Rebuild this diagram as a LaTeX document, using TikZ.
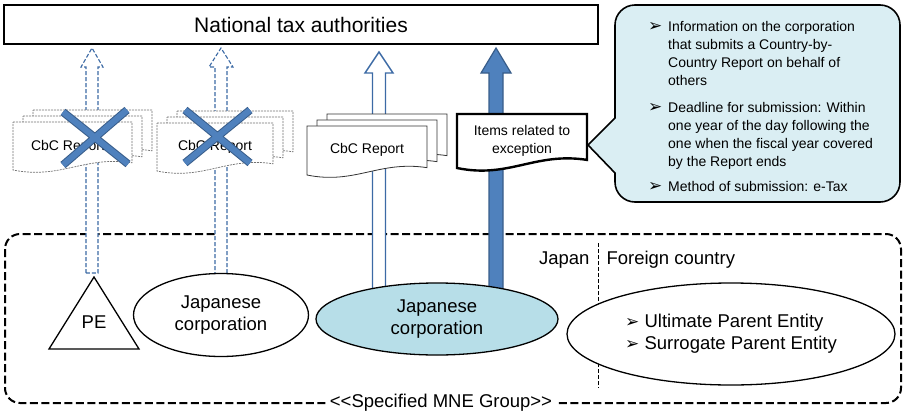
\documentclass[tikz,border=0pt]{standalone}
\usepackage{fontspec}
\setmainfont{Liberation Sans}
\newfontfamily\dejavu{DejaVu Sans}
\usetikzlibrary{shapes.geometric,calc}

\definecolor{arrowline}{HTML}{3C6AA5}
\definecolor{solidfill}{HTML}{4F81BD}
\definecolor{solidline}{HTML}{385D8A}
\definecolor{calloutblue}{HTML}{DAEEF3}
\definecolor{entityblue}{HTML}{B7DEE8}

% bullet mark
\newcommand\tick{{\dejavu\fontsize{17}{17}\selectfont ➢}}
\newcommand\itemmark{\makebox[20pt][l]{\tick}}
\newcommand\itemgap{\hspace*{20pt}}

% one page of a report, y grows downwards
\newcommand\docpage[5]{%
  \draw[#1] (#2,#3) -- ({#2+#4},#3) -- ({#2+#4},{#3+0.85*#5})
    .. controls ({#2+0.6*#4},{#3+0.7*#5}) and ({#2+0.4*#4},{#3+1.2*#5}) .. (#2,{#3+#5}) -- cycle;}
\newcommand\docstack[5]{%
  \docpage{#1}{#2+20}{#3-12}{#4}{#5}
  \docpage{#1}{#2+10}{#3-6}{#4}{#5}
  \docpage{#1}{#2}{#3}{#4}{#5}}

% block arrow from foot to tip
\newcommand\blockarrow[6]{%
  \path[#1] let \p1=(#2), \p2=(#3) in
    (\x1-#4,\y1) -- (\x1-#4,\y2-#6) -- (\x1-#5,\y2-#6) -- (\x1,\y2)
    -- (\x1+#5,\y2-#6) -- (\x1+#4,\y2-#6) -- (\x1+#4,\y1) -- cycle;}

\tikzset{
  every node/.style={font=\fontsize{18.5}{22}\selectfont},
  smalltext/.style={font=\fontsize{14}{18}\selectfont, align=center},
  entity/.style={ellipse, draw, fill=white, line width=1.3pt, align=center, inner sep=0pt},
  hollowdash/.style={draw=arrowline, fill=white, line width=1.1pt, dash pattern=on 4pt off 2pt},
  hollow/.style={draw=arrowline, fill=white, line width=1.4pt},
  filled/.style={draw=solidline, fill=solidfill, line width=1.2pt},
  ghostpage/.style={draw=black!55, fill=white, line width=0.7pt, dash pattern=on 2pt off 1pt},
  page/.style={draw=black!80, fill=white, line width=0.8pt},
  itempage/.style={draw=black, fill=white, line width=2.4pt},
  crossmark/.style={draw=solidline, double=solidfill, double distance=6pt, line width=1pt},
}

\begin{document}
\begin{tikzpicture}[x=1pt,y=-1pt]
\useasboundingbox (0,0) rectangle (903,410);

% MNE group frame
\draw[line width=2pt, dash pattern=on 8pt off 3.5pt, rounded corners=15pt] (5,234) rectangle (901,403);
\draw[line width=0.8pt, dash pattern=on 4pt off 2pt] (598,243) -- (598,388);
\node[anchor=east] (japan) at (593,260) {Japan};
\node[anchor=west] (foreign) at (603,260) {Foreign country};
\node[fill=white, inner xsep=4pt, inner ysep=1pt] (mne) at (441,403) {<{}<Specified MNE Group>{}>};

\node[draw, line width=2.2pt, minimum width=594, minimum height=39, inner sep=0,
  font=\fontsize{21}{24}\selectfont] (nta) at (301,24.5) {National tax authorities};

% arrows
\coordinate (a1foot) at (92,273);  \coordinate (a1tip) at (92,48);
\coordinate (a2foot) at (221,276); \coordinate (a2tip) at (221,48);
\coordinate (a3foot) at (379,290); \coordinate (a3tip) at (379,52);
\coordinate (a4foot) at (496,290); \coordinate (a4tip) at (496,48);
\blockarrow{hollowdash}{a1foot}{a1tip}{6pt}{11pt}{19pt}
\blockarrow{hollowdash}{a2foot}{a2tip}{6pt}{12pt}{19pt}
\blockarrow{hollow}{a3foot}{a3tip}{6.5pt}{14pt}{21pt}
\blockarrow{filled}{a4foot}{a4tip}{7pt}{15pt}{25pt}

% entities
\draw[line width=1.3pt] (94,277) -- (139,349) -- (49,349) -- cycle;
\node (pe) at (94,322) {PE};
\node[entity, minimum width=175, minimum height=83] (jpa) at (221,315) {Japanese\\corporation};
\node[entity, fill=entityblue, minimum width=242, minimum height=72] (jpb) at (437,319) {Japanese\\corporation};
\node[entity, minimum width=328, minimum height=102, align=left] (upe) at (731,334)
  {\tick\ Ultimate Parent Entity\\\tick\ Surrogate Parent Entity};

% reports
\docstack{ghostpage}{13}{122}{119}{48}
\node[smalltext] (cbc1) at (68,147) {CbC Report};
\docstack{ghostpage}{157}{123}{116}{48}
\node[smalltext] (cbc2) at (215,147) {CbC Report};
\docstack{page}{307}{126}{120}{49}
\node[smalltext] (cbc3) at (367,150) {CbC Report};
\docpage{itempage}{457}{114}{130}{54}
\node[smalltext] (items) at (522,141) {Items related to\\exception};

\draw[crossmark] (63,112) -- (128,164) (127,110) -- (63,165);
\draw[crossmark] (185,110) -- (250,163) (250,110) -- (185,163);

% callout
\coordinate (calltip) at (588,145);
\draw[line width=1.6pt, fill=calloutblue] (calltip) -- (615,118) -- (615,25)
  arc[start angle=180, end angle=270, radius=20] -- (880,5)
  arc[start angle=270, end angle=360, radius=20] -- (900,182)
  arc[start angle=0, end angle=90, radius=20] -- (635,202)
  arc[start angle=90, end angle=180, radius=20] -- (615,173) -- cycle;
\node[anchor=north west, align=left, inner sep=0, font=\fontsize{14}{18}\selectfont] (notes) at (648,21)
  {\itemmark Information on the corporation\\
   \itemgap that submits a Country-by-\\
   \itemgap Country Report on behalf of\\
   \itemgap others\\[9pt]
   \itemmark Deadline for submission: Within\\
   \itemgap one year of the day following the\\
   \itemgap one when the fiscal year covered\\
   \itemgap by the Report ends\\[7pt]
   \itemmark Method of submission: e-Tax};
\end{tikzpicture}
\end{document}
